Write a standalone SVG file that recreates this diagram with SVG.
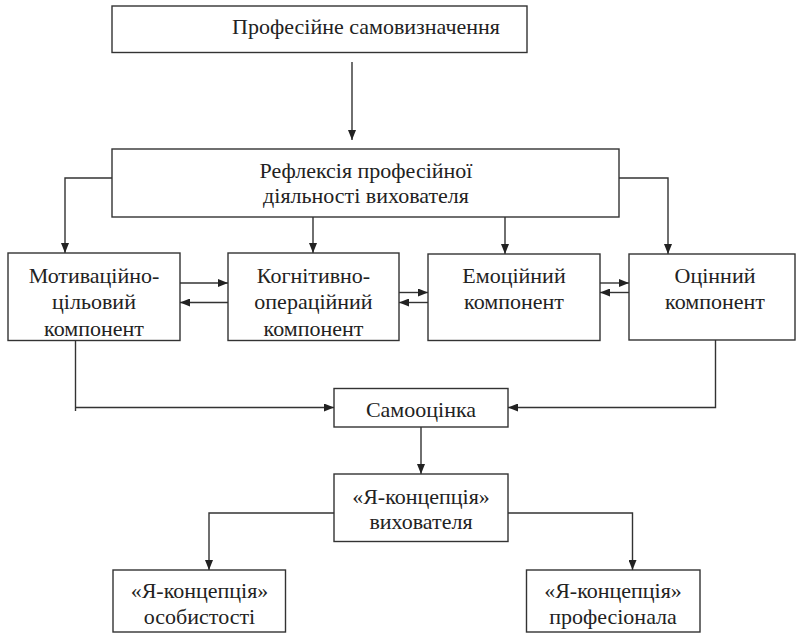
<svg xmlns="http://www.w3.org/2000/svg" width="796" height="637" viewBox="0 0 796 637">
<style>
.box{fill:#fff;stroke:#333;stroke-width:1.4}
.c{fill:none;stroke:#333;stroke-width:1.4}
</style>
<defs>
<marker id="ah" viewBox="0 0 10 8" refX="10" refY="4" markerWidth="10" markerHeight="8" markerUnits="userSpaceOnUse" orient="auto">
<path d="M0,0 L10,4 L0,8 Z" fill="#222"/>
</marker>
</defs>
<rect width="796" height="637" fill="#fff"/>
<g id="connectors">
<path class="c" d="M352,62 V140" marker-end="url(#ah)"/>
<path class="c" d="M112,178 H65 V253" marker-end="url(#ah)"/>
<path class="c" d="M619,178 H668 V254" marker-end="url(#ah)"/>
<path class="c" d="M313,217 V253" marker-end="url(#ah)"/>
<path class="c" d="M505,217 V254" marker-end="url(#ah)"/>
<path class="c" d="M180,283 H228" marker-end="url(#ah)"/>
<path class="c" d="M228,302.5 H180" marker-end="url(#ah)"/>
<path class="c" d="M399,292.5 H428" marker-end="url(#ah)"/>
<path class="c" d="M428,302.5 H399" marker-end="url(#ah)"/>
<path class="c" d="M600,283 H629" marker-end="url(#ah)"/>
<path class="c" d="M629,292.5 H600" marker-end="url(#ah)"/>
<path class="c" d="M75.5,341 V411"/>
<path class="c" d="M75.5,407.5 H334" marker-end="url(#ah)"/>
<path class="c" d="M715.5,340 V407.5 H508" marker-end="url(#ah)"/>
<path class="c" d="M421,427 V474" marker-end="url(#ah)"/>
<path class="c" d="M334,513 H209 V570" marker-end="url(#ah)"/>
<path class="c" d="M508,513 H632.5 V570" marker-end="url(#ah)"/>
</g>
<g font-size="22" fill="#222" text-anchor="middle" font-family="Liberation Serif, serif">
<g id="n-prof">
<rect class="box" x="112" y="6" width="415" height="46.5"/>
<text x="366" y="34" font-family="Liberation Serif, serif">Професійне самовизначення</text>
</g>
<g id="n-refl">
<rect class="box" x="112" y="149" width="507" height="68"/>
<text x="366" y="178" font-family="Liberation Serif, serif">Рефлексія професійної</text>
<text x="366" y="202.5" font-family="Liberation Serif, serif">діяльності вихователя</text>
</g>
<g id="n-motiv">
<rect class="box" x="8" y="253" width="172" height="87.5"/>
<text x="94" y="282.5" font-family="Liberation Serif, serif">Мотиваційно-</text>
<text x="94" y="309" font-family="Liberation Serif, serif">цільовий</text>
<text x="94" y="335.5" font-family="Liberation Serif, serif">компонент</text>
</g>
<g id="n-cogn">
<rect class="box" x="228" y="253" width="171" height="87.5"/>
<text x="313.5" y="282.5" font-family="Liberation Serif, serif">Когнітивно-</text>
<text x="313.5" y="309" font-family="Liberation Serif, serif">операційний</text>
<text x="313.5" y="335.5" font-family="Liberation Serif, serif">компонент</text>
</g>
<g id="n-emot">
<rect class="box" x="428" y="254" width="172" height="86.5"/>
<text x="514" y="282.5" font-family="Liberation Serif, serif">Емоційний</text>
<text x="514" y="309" font-family="Liberation Serif, serif">компонент</text>
</g>
<g id="n-ocin">
<rect class="box" x="629" y="254" width="166" height="86"/>
<text x="715" y="282.5" font-family="Liberation Serif, serif">Оцінний</text>
<text x="715" y="309" font-family="Liberation Serif, serif">компонент</text>
</g>
<g id="n-samo">
<rect class="box" x="334" y="388.5" width="174" height="38.5"/>
<text x="421" y="416.5" font-family="Liberation Serif, serif">Самооцінка</text>
</g>
<g id="n-ya-vyh">
<rect class="box" x="334" y="474" width="174" height="67.5"/>
<text x="421" y="503.5" font-family="Liberation Serif, serif">«Я-концепція»</text>
<text x="421" y="529" font-family="Liberation Serif, serif">вихователя</text>
</g>
<g id="n-ya-os">
<rect class="box" x="113" y="570" width="172.5" height="62"/>
<text x="199.5" y="597.5" font-family="Liberation Serif, serif">«Я-концепція»</text>
<text x="199.5" y="623.5" font-family="Liberation Serif, serif">особистості</text>
</g>
<g id="n-ya-prof">
<rect class="box" x="526.5" y="570" width="173.5" height="62"/>
<text x="613" y="597.5" font-family="Liberation Serif, serif">«Я-концепція»</text>
<text x="613" y="623.5" font-family="Liberation Serif, serif">професіонала</text>
</g>
</g>
</svg>
